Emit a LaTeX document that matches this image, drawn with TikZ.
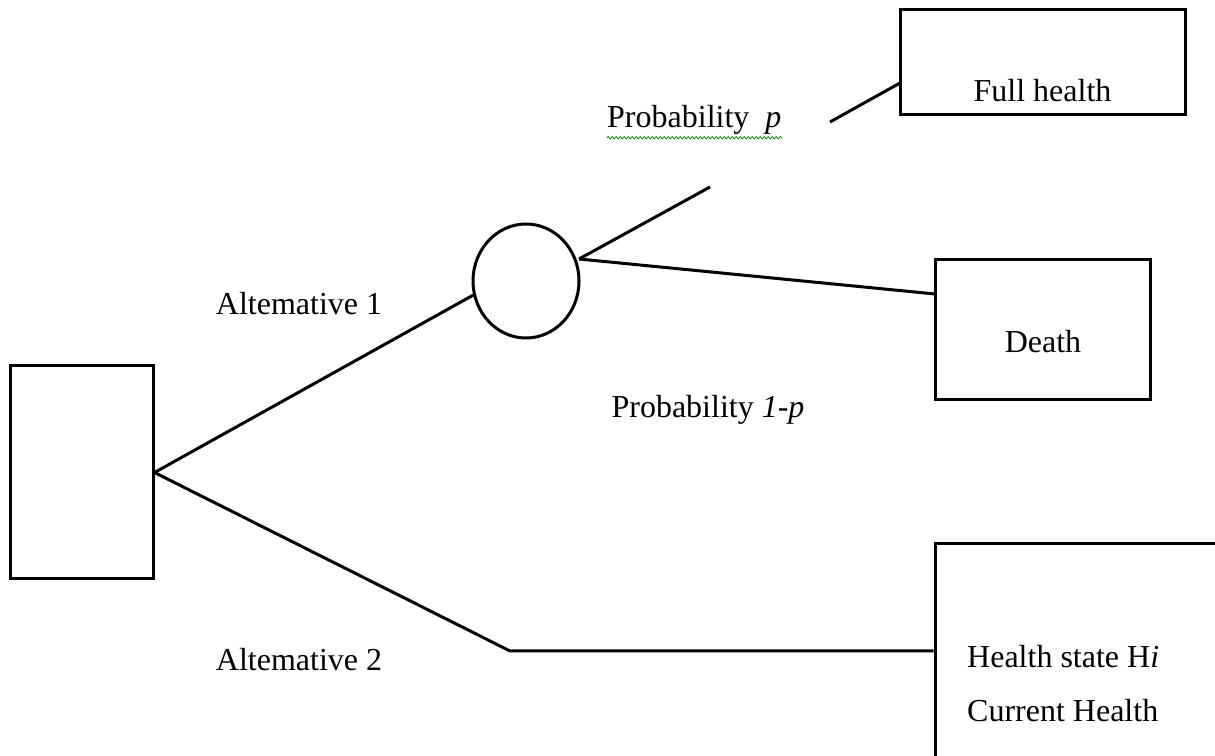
\documentclass[tikz,border=0pt]{standalone}
\usepackage{fontspec}
\setmainfont{Liberation Serif}
\usetikzlibrary{shapes.geometric,decorations.pathmorphing}
\tikzset{
  box/.style={draw, line width=3pt, rectangle, inner sep=0pt},
  wire/.style={line width=3pt},
  lbl/.style={inner sep=0pt, font=\fontsize{32}{38}\selectfont},
}
\begin{document}
\begin{tikzpicture}[x=1pt,y=1pt]
\useasboundingbox (0,0) rectangle (1215,755);
\clip (0,0) rectangle (1215,755);
% decision box
\node[box, minimum width=143pt, minimum height=213pt] (dec) at (81.5,282.5) {};
% chance node
\node[draw, line width=3pt, ellipse, minimum width=106pt, minimum height=114pt, inner sep=0pt] (chance) at (526,474) {};
% outcome boxes
\node[box, minimum width=285pt, minimum height=105pt] (full) at (1042.5,692.5) {};
\node[lbl] (fulltxt) at (1042.5,664) {Full health};
\node[box, minimum width=215pt, minimum height=140pt] (death) at (1042.5,425) {};
\node[lbl] (deathtxt) at (1043,413) {Death};
\node[box, minimum width=300pt, minimum height=260pt] (health) at (1085,81) {};
\node[lbl, anchor=west] (hstate) at (967,98) {Health state H\textit{i}};
\node[lbl, anchor=west] (curr) at (967,44) {Current Health};
% labels
\node[lbl] (alt1) at (299,451) {Altemative 1};
\node[lbl] (alt2) at (299,95) {Altemative 2};
\node[lbl, anchor=west] (probp) at (607,635) {Probability\ \ \textit{p}};
\draw[green!60!black, line width=0.8pt, decorate, decoration={snake, amplitude=1.2pt, segment length=4pt}]
  ([yshift=-3pt]probp.south west) -- ([yshift=-3pt]probp.south east);
\node[lbl] (prob1p) at (708,345) {Probability \textit{1-p}};
% connectors
\coordinate (apex) at (579,496);
\coordinate (gapA) at (710,568);
\coordinate (gapB) at (830,633);
\coordinate (fullin) at (900,672);
\coordinate (deathin) at (935,461);
\coordinate (elbow) at (510,104);
\draw[wire] (dec.east) -- (chance.195);
\draw[wire] (apex) -- (gapA);
\draw[wire] (gapB) -- (fullin);
\draw[wire] (apex) -- (deathin);
\draw[wire] (dec.east) -- (elbow) -- (elbow -| health.west);
\end{tikzpicture}
\end{document}
